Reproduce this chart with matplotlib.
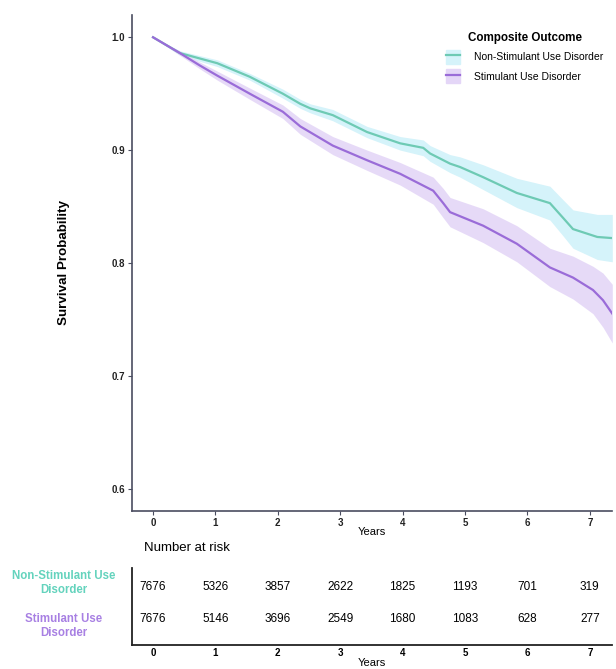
import numpy as np
import matplotlib
matplotlib.use('Agg')
from matplotlib import pyplot as plt
from matplotlib.patches import Patch
from matplotlib.lines import Line2D

plt.rcParams['font.family'] = ['Liberation Sans', 'DejaVu Sans']

# survival values (years, probability, CI half-width)
t_non = [0, 0.43, 1.03, 1.55, 2.08, 2.36, 2.52, 2.88, 3.43, 3.96, 4.33, 4.44, 4.76, 4.92, 5.29, 5.83,
         6.36, 6.57, 6.73, 7.12, 7.36]
s_non = [1.0, 0.986, 0.977, 0.965, 0.950, 0.941, 0.937, 0.931, 0.916, 0.906, 0.902, 0.897, 0.888, 0.885,
         0.876, 0.862, 0.853, 0.840, 0.830, 0.823, 0.822]
ci_non = [0.0, 0.002, 0.003, 0.003, 0.004, 0.004, 0.004, 0.005, 0.005, 0.006, 0.007, 0.007, 0.008, 0.009,
          0.011, 0.013, 0.015, 0.016, 0.017, 0.020, 0.021]

t_sud = [0, 0.43, 0.75, 1.03, 1.55, 2.08, 2.36, 2.88, 3.43, 3.96, 4.49, 4.65, 4.76, 5.29, 5.83, 6.36,
         6.73, 7.05, 7.21, 7.36]
s_sud = [1.0, 0.986, 0.975, 0.966, 0.950, 0.934, 0.921, 0.904, 0.891, 0.879, 0.864, 0.853, 0.845, 0.833,
         0.817, 0.796, 0.787, 0.776, 0.767, 0.755]
ci_sud = [0.0, 0.002, 0.003, 0.004, 0.005, 0.006, 0.007, 0.008, 0.009, 0.010, 0.012, 0.013, 0.013, 0.015,
          0.016, 0.017, 0.019, 0.021, 0.024, 0.026]

years = [0, 1, 2, 3, 4, 5, 6, 7]
risk_non = [7676, 5326, 3857, 2622, 1825, 1193, 701, 319]
risk_sud = [7676, 5146, 3696, 2549, 1680, 1083, 628, 277]

teal = '#6ecab4'
teal_band = '#d5f3fa'
purple = '#9a6cd8'
purple_band = '#e4d6f7'
axis_col = '#4a4d60'

fig = plt.figure(figsize=(6.16, 6.69), dpi=100)
ax = fig.add_axes([0.214, 0.236, 0.780, 0.742])

s_non_a = np.array(s_non)
s_sud_a = np.array(s_sud)
ax.fill_between(t_non, s_non_a - ci_non, s_non_a + ci_non, color=teal_band, lw=0)
ax.fill_between(t_sud, s_sud_a - ci_sud, s_sud_a + ci_sud, color=purple_band, lw=0, alpha=0.9)
ax.plot(t_non, s_non, color=teal, lw=1.6)
ax.plot(t_sud, s_sud, color=purple, lw=1.6)

ax.set_xlim(-0.34, 7.36)
ax.set_ylim(0.58, 1.02)
ax.set_xticks(years)
ax.set_yticks([0.6, 0.7, 0.8, 0.9, 1.0])
ax.set_yticklabels(['0.6', '0.7', '0.8', '0.9', '1.0'])
for sp in ['top', 'right']:
    ax.spines[sp].set_visible(False)
for sp in ['left', 'bottom']:
    ax.spines[sp].set_color(axis_col)
    ax.spines[sp].set_linewidth(1.2)
ax.tick_params(colors=axis_col, length=3, width=0.8, labelsize=7, pad=2)
for lab in ax.get_xticklabels() + ax.get_yticklabels():
    lab.set_fontweight('bold')
    lab.set_color('#222222')
ax.set_xlabel('Years', fontsize=8, labelpad=-1)
ax.set_ylabel('Survival Probability', fontsize=9.6, fontweight='bold', labelpad=30)

handles = [
    (Patch(color=teal_band), Line2D([], [], color=teal, lw=1.6)),
    (Patch(color=purple_band), Line2D([], [], color=purple, lw=1.6)),
]
leg = ax.legend(handles, ['Non-Stimulant Use Disorder', 'Stimulant Use Disorder'],
                title='Composite Outcome', loc='upper right', bbox_to_anchor=(0.995, 0.978),
                frameon=False, fontsize=7.5, handlelength=1.3, handleheight=1.7,
                borderaxespad=0.2, labelspacing=0.55, handletextpad=1.4)
leg.get_title().set_fontweight('bold')
leg.get_title().set_fontsize(8.4)

# number at risk table
tab = fig.add_axes([0.214, 0.036, 0.780, 0.115])
tab.set_xlim(-0.34, 7.36)
tab.set_ylim(0, 1)
for x, n in zip(years, risk_non):
    tab.text(x, 0.75, str(n), ha='center', va='center', fontsize=8.5)
for x, n in zip(years, risk_sud):
    tab.text(x, 0.34, str(n), ha='center', va='center', fontsize=8.5)
tab.set_xticks(years)
tab.set_yticks([])
for sp in ['top', 'right']:
    tab.spines[sp].set_visible(False)
for sp in ['left', 'bottom']:
    tab.spines[sp].set_color('#222222')
    tab.spines[sp].set_linewidth(1.3)
tab.tick_params(axis='x', length=0, labelsize=7, pad=2)
for lab in tab.get_xticklabels():
    lab.set_fontweight('bold')
tab.set_xlabel('Years', fontsize=8, labelpad=0)

fig.text(144 / 616, 1 - 548 / 669, 'Number at risk', fontsize=9.5, va='center', ha='left')
fig.text(63.5 / 616, 1 - 583 / 669, 'Non-Stimulant Use\nDisorder', color='#64d3bd', fontsize=8.3,
         fontweight='bold', ha='center', va='center', multialignment='center', linespacing=1.3)
fig.text(63.5 / 616, 1 - 626 / 669, 'Stimulant Use\nDisorder', color='#a880e3', fontsize=8.3,
         fontweight='bold', ha='center', va='center', multialignment='center', linespacing=1.3)

fig.savefig('out.png', dpi=100, facecolor='white')
